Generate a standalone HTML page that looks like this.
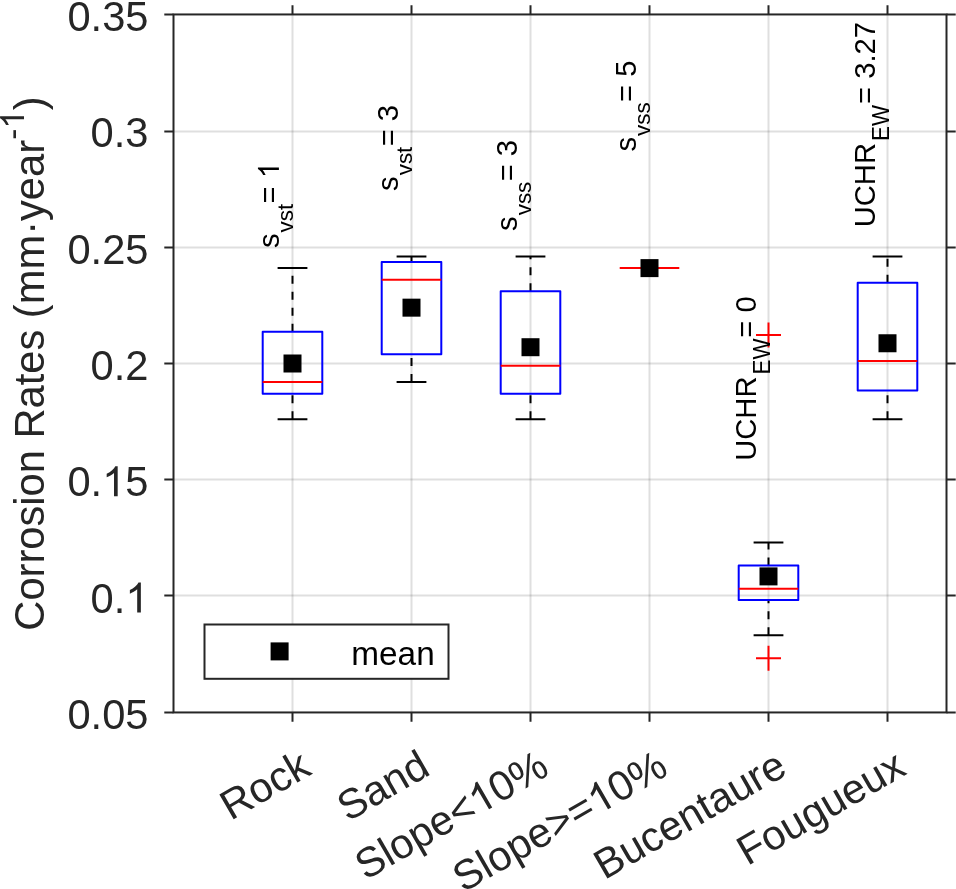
<!DOCTYPE html>
<html><head><meta charset="utf-8"><title>Corrosion Rates</title>
<style>html{background:#fff}html,body{margin:0;padding:0;overflow:hidden}svg{display:block;will-change:transform}text{font-family:"Liberation Sans",sans-serif;font-kerning:none;white-space:pre}</style></head><body>
<svg width="956" height="889" viewBox="0 0 956 889">
<g stroke="#262626" stroke-opacity="0.15" stroke-width="2" fill="none">
<line x1="292.50" y1="14.45" x2="292.50" y2="712.45"/>
<line x1="411.50" y1="14.45" x2="411.50" y2="712.45"/>
<line x1="530.50" y1="14.45" x2="530.50" y2="712.45"/>
<line x1="649.50" y1="14.45" x2="649.50" y2="712.45"/>
<line x1="768.50" y1="14.45" x2="768.50" y2="712.45"/>
<line x1="887.50" y1="14.45" x2="887.50" y2="712.45"/>
<line x1="173.5" y1="131.46" x2="946.5" y2="131.46"/>
<line x1="173.5" y1="247.46" x2="946.5" y2="247.46"/>
<line x1="173.5" y1="363.46" x2="946.5" y2="363.46"/>
<line x1="173.5" y1="479.46" x2="946.5" y2="479.46"/>
<line x1="173.5" y1="595.46" x2="946.5" y2="595.46"/>
</g>
<path d="M292.50 419.34V393.75" stroke="#000" stroke-width="2" stroke-dasharray="8 8" fill="none"/>
<path d="M292.50 331.86V268.11" stroke="#000" stroke-width="2" stroke-dasharray="8 8" fill="none"/>
<path d="M277.60 419.34H307.40M277.60 268.11H307.40" stroke="#000" stroke-width="2" fill="none"/>
<rect x="262.70" y="331.86" width="59.60" height="61.89" stroke="#0000ff" stroke-width="2" fill="none" stroke-linejoin="round"/>
<path d="M262.70 382.11H322.30" stroke="#ff0000" stroke-width="2" fill="none"/>
<path d="M411.50 382.11V354.19" stroke="#000" stroke-width="2" stroke-dasharray="8 8" fill="none"/>
<path d="M411.50 262.06V256.47" stroke="#000" stroke-width="2" stroke-dasharray="8 8" fill="none"/>
<path d="M396.60 382.11H426.40M396.60 256.47H426.40" stroke="#000" stroke-width="2" fill="none"/>
<rect x="381.70" y="262.06" width="59.60" height="92.14" stroke="#0000ff" stroke-width="2" fill="none" stroke-linejoin="round"/>
<path d="M381.70 279.74H441.30" stroke="#ff0000" stroke-width="2" fill="none"/>
<path d="M530.50 419.34V393.75" stroke="#000" stroke-width="2" stroke-dasharray="8 8" fill="none"/>
<path d="M530.50 291.37V256.47" stroke="#000" stroke-width="2" stroke-dasharray="8 8" fill="none"/>
<path d="M515.60 419.34H545.40M515.60 256.47H545.40" stroke="#000" stroke-width="2" fill="none"/>
<rect x="500.70" y="291.37" width="59.60" height="102.37" stroke="#0000ff" stroke-width="2" fill="none" stroke-linejoin="round"/>
<path d="M500.70 365.83H560.30" stroke="#ff0000" stroke-width="2" fill="none"/>
<path d="M768.50 635.25V600.12" stroke="#000" stroke-width="2" stroke-dasharray="8 8" fill="none"/>
<path d="M768.50 565.45V542.42" stroke="#000" stroke-width="2" stroke-dasharray="8 8" fill="none"/>
<path d="M753.60 635.25H783.40M753.60 542.42H783.40" stroke="#000" stroke-width="2" fill="none"/>
<rect x="738.70" y="565.45" width="59.60" height="34.67" stroke="#0000ff" stroke-width="2" fill="none" stroke-linejoin="round"/>
<path d="M738.70 588.72H798.30" stroke="#ff0000" stroke-width="2" fill="none"/>
<path d="M887.50 419.34V390.61" stroke="#000" stroke-width="2" stroke-dasharray="8 8" fill="none"/>
<path d="M887.50 282.76V256.47" stroke="#000" stroke-width="2" stroke-dasharray="8 8" fill="none"/>
<path d="M872.60 419.34H902.40M872.60 256.47H902.40" stroke="#000" stroke-width="2" fill="none"/>
<rect x="857.70" y="282.76" width="59.60" height="107.84" stroke="#0000ff" stroke-width="2" fill="none" stroke-linejoin="round"/>
<path d="M857.70 360.94H917.30" stroke="#ff0000" stroke-width="2" fill="none"/>
<path d="M619.70 268.11H679.30" stroke="#ff0000" stroke-width="2" fill="none"/>
<path d="M756.00 335.11H781.00M768.50 322.61V347.61" stroke="#ff0000" stroke-width="2" fill="none"/>
<path d="M756.00 658.29H781.00M768.50 645.79V670.79" stroke="#ff0000" stroke-width="2" fill="none"/>
<g transform="translate(278.90 248.00) rotate(-90)"><text transform="translate(0.00 0.00) scale(1 0.985)" font-size="29.17" fill="#000">s</text><text transform="translate(15.59 14.00) scale(1 0.985)" font-size="22.4" fill="#000">vst</text><text transform="translate(44.61 0.00) scale(1 1.04)" font-size="29.17" fill="#000">= </text><path transform="translate(69.75 0.00) scale(0.01424 -0.01424)" d="M763 0H583V1147Q518 1085 412.500 1023T223 930V1104Q374.500 1175 488 1276T647 1472H763Z" fill="#000"/></g>
<g transform="translate(398.00 190.90) rotate(-90)"><text transform="translate(0.00 0.00) scale(1 0.985)" font-size="29.17" fill="#000">s</text><text transform="translate(15.59 14.00) scale(1 0.985)" font-size="22.4" fill="#000">vst</text><text transform="translate(44.61 0.00) scale(1 1.04)" font-size="29.17" fill="#000">= 3</text></g>
<g transform="translate(517.00 230.90) rotate(-90)"><text transform="translate(0.00 0.00) scale(1 0.985)" font-size="29.17" fill="#000">s</text><text transform="translate(15.59 14.00) scale(1 0.985)" font-size="22.4" fill="#000">vss</text><text transform="translate(49.59 0.00) scale(1 1.04)" font-size="29.17" fill="#000">= 3</text></g>
<g transform="translate(636.00 151.50) rotate(-90)"><text transform="translate(0.00 0.00) scale(1 0.985)" font-size="29.17" fill="#000">s</text><text transform="translate(15.59 14.00) scale(1 0.985)" font-size="22.4" fill="#000">vss</text><text transform="translate(49.59 0.00) scale(1 1.04)" font-size="29.17" fill="#000">= 5</text></g>
<g transform="translate(755.90 460.80) rotate(-90)"><text transform="translate(0.00 0.00) scale(1 1.04)" font-size="29.17" fill="#000">UCHR</text><text transform="translate(86.26 14.00) scale(1 1.04)" font-size="22.4" fill="#000">EW</text><text transform="translate(123.05 0.00) scale(1 1.04)" font-size="29.17" fill="#000">= 0</text></g>
<g transform="translate(875.30 227.30) rotate(-90)"><text transform="translate(0.00 0.00) scale(1 1.04)" font-size="29.17" fill="#000">UCHR</text><text transform="translate(86.26 14.00) scale(1 1.04)" font-size="22.4" fill="#000">EW</text><text transform="translate(123.35 0.00) scale(1 1.04)" font-size="29.17" fill="#000">= 3.27</text></g>
<rect x="283.50" y="354.50" width="18" height="18" fill="#000"/>
<rect x="402.50" y="298.66" width="18" height="18" fill="#000"/>
<rect x="521.50" y="338.21" width="18" height="18" fill="#000"/>
<rect x="640.50" y="259.11" width="18" height="18" fill="#000"/>
<rect x="759.50" y="567.39" width="18" height="18" fill="#000"/>
<rect x="878.50" y="334.26" width="18" height="18" fill="#000"/>
<g stroke="#262626" stroke-width="2" fill="none">
<rect x="173.5" y="14.45" width="773.0" height="698.0"/>
<path d="M292.50 712.45v9.2M292.50 14.45v-9.2"/>
<path d="M411.50 712.45v9.2M411.50 14.45v-9.2"/>
<path d="M530.50 712.45v9.2M530.50 14.45v-9.2"/>
<path d="M649.50 712.45v9.2M649.50 14.45v-9.2"/>
<path d="M768.50 712.45v9.2M768.50 14.45v-9.2"/>
<path d="M887.50 712.45v9.2M887.50 14.45v-9.2"/>
<path d="M173.5 14.45h-9.2M946.5 14.45h9.2"/>
<path d="M173.5 131.46h-9.2M946.5 131.46h9.2"/>
<path d="M173.5 247.46h-9.2M946.5 247.46h9.2"/>
<path d="M173.5 363.46h-9.2M946.5 363.46h9.2"/>
<path d="M173.5 479.46h-9.2M946.5 479.46h9.2"/>
<path d="M173.5 595.46h-9.2M946.5 595.46h9.2"/>
<path d="M173.5 712.45h-9.2M946.5 712.45h9.2"/>
</g>
<text transform="translate(67.40 30.90) scale(1 1.04)" font-size="41.67" fill="#262626">0.35</text>
<text transform="translate(90.57 147.23) scale(1 1.04)" font-size="41.67" fill="#262626">0.3</text>
<text transform="translate(67.40 263.57) scale(1 1.04)" font-size="41.67" fill="#262626">0.25</text>
<text transform="translate(90.57 379.90) scale(1 1.04)" font-size="41.67" fill="#262626">0.2</text>
<text transform="translate(67.40 496.23) scale(1 1.04)" font-size="41.67" fill="#262626">0.</text><path transform="translate(102.15 496.23) scale(0.02035 -0.02035)" d="M763 0H583V1147Q518 1085 412.500 1023T223 930V1104Q374.500 1175 488 1276T647 1472H763Z" fill="#262626"/><text transform="translate(125.33 496.23) scale(1 1.04)" font-size="41.67" fill="#262626">5</text>
<text transform="translate(90.57 612.57) scale(1 1.04)" font-size="41.67" fill="#262626">0.</text><path transform="translate(125.33 612.57) scale(0.02035 -0.02035)" d="M763 0H583V1147Q518 1085 412.500 1023T223 930V1104Q374.500 1175 488 1276T647 1472H763Z" fill="#262626"/>
<text transform="translate(67.40 728.90) scale(1 1.04)" font-size="41.67" fill="#262626">0.05</text>
<g transform="translate(313.00 773.6) rotate(-30)"><text x="-94.94" y="0.00" font-size="41.67" fill="#262626">Rock</text></g>
<g transform="translate(432.00 773.6) rotate(-30)"><text x="-97.32" y="0.00" font-size="41.67" fill="#262626">Sand</text></g>
<g transform="translate(551.00 773.6) rotate(-30)"><text x="-214.31" y="0.00" font-size="41.67" fill="#262626">Slope&lt;</text><path transform="translate(-83.40 0.00) scale(0.02035 -0.02035)" d="M763 0H583V1147Q518 1085 412.500 1023T223 930V1104Q374.500 1175 488 1276T647 1472H763Z" fill="#262626"/><text x="-60.23" y="0.00" font-size="41.67" fill="#262626">0%</text></g>
<g transform="translate(670.00 773.6) rotate(-30)"><text x="-238.65" y="0.00" font-size="41.67" fill="#262626">Slope&gt;=</text><path transform="translate(-83.40 0.00) scale(0.02035 -0.02035)" d="M763 0H583V1147Q518 1085 412.500 1023T223 930V1104Q374.500 1175 488 1276T647 1472H763Z" fill="#262626"/><text x="-60.23" y="0.00" font-size="41.67" fill="#262626">0%</text></g>
<g transform="translate(789.00 773.6) rotate(-30)"><text x="-213.13" y="0.00" font-size="41.67" fill="#262626">Bucentaure</text></g>
<g transform="translate(908.00 773.6) rotate(-30)"><text x="-185.34" y="0.00" font-size="41.67" fill="#262626">Fougueux</text></g>
<g transform="translate(44 363.5) rotate(-90)"><text x="-267.18" y="0.00" font-size="41.67" fill="#262626">Corrosion Rates (mm·year</text><text x="223.70" y="-20.00" font-size="33.3" fill="#262626">-</text><path transform="translate(234.79 -20.00) scale(0.01626 -0.01626)" d="M763 0H583V1147Q518 1085 412.500 1023T223 930V1104Q374.500 1175 488 1276T647 1472H763Z" fill="#262626"/><text x="253.31" y="0.00" font-size="41.67" fill="#262626">)</text></g>
<rect x="204.5" y="624.5" width="244" height="54.3" fill="#fff" stroke="#262626" stroke-width="2"/>
<rect x="270.6" y="642.4" width="18" height="18" fill="#000"/>
<text x="351.3" y="664.9" font-size="33.33" fill="#000">mean</text>
</svg></body></html>
